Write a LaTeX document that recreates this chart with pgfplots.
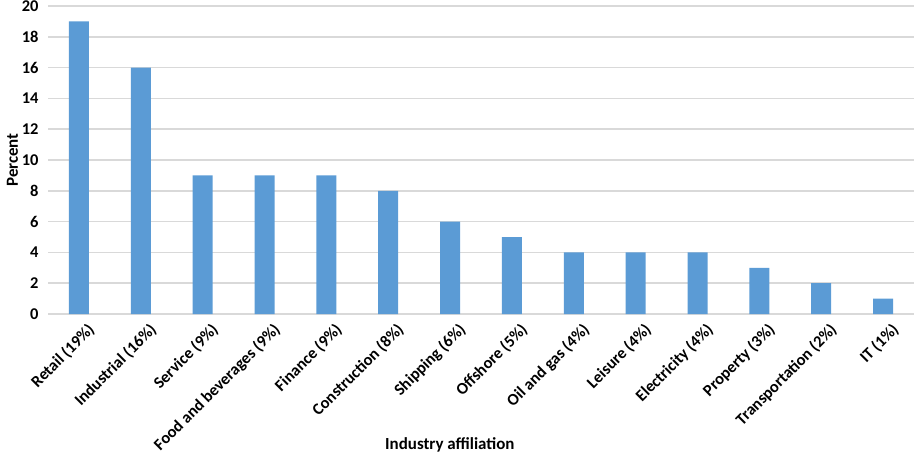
\documentclass[border=0pt]{standalone}
\usepackage{pgfplots}
\pgfplotsset{compat=1.18}
\usepackage{fontspec}
\setmainfont{Carlito}
\usetikzlibrary{calc}
\definecolor{barblue}{HTML}{5B9BD5}
\definecolor{gridgray}{HTML}{D9D9D9}
\begin{document}
\begin{tikzpicture}
\begin{axis}[
  scale only axis,
  width=866bp, height=308bp,
  ymin=0, ymax=20, ytick={0,2,...,20},
  xmin=-0.5, xmax=13.5,
  xtick=data,
  xticklabels={Retail (19\%),Industrial (16\%),Service (9\%),Food and beverages (9\%),Finance (9\%),Construction (8\%),Shipping (6\%),Offshore (5\%),Oil and gas (4\%),Leisure (4\%),Electricity (4\%),Property (3\%),Transportation (2\%),IT (1\%)},
  x tick label style={rotate=45, anchor=north east, font=\fontsize{16.5}{18}\selectfont\bfseries, inner sep=1pt, xshift=1pt, yshift=-10pt},
  y tick label style={font=\fontsize{16.5}{18}\selectfont\bfseries, xshift=-6pt},
  /pgf/number format/assume math mode=true,
  axis line style={draw=none},
  major tick length=0pt,
  ymajorgrids,
  grid style={gridgray, line width=1.5bp},
  ylabel={\bfseries Percent},
  ylabel style={font=\fontsize{17}{19}\selectfont, yshift=-3pt},
  xlabel={\bfseries Industry affiliation},
  xlabel style={font=\fontsize{17}{19}\selectfont, at={(rel axis cs:0.464,0)}, anchor=center, yshift=-131bp},
  ybar, bar width=20bp,
  clip=false,
]
\addplot[fill=barblue, draw=none] coordinates {
(0,19) (1,16) (2,9) (3,9) (4,9) (5,8) (6,6) (7,5) (8,4) (9,4) (10,4) (11,3) (12,2) (13,1)};
\coordinate (bl) at (rel axis cs:0,0);
\coordinate (tr) at (rel axis cs:1,1);
\end{axis}
\pgfresetboundingbox
\path[use as bounding box] ($(bl)+(-48bp,-141bp)$) rectangle ($(tr)+(0bp,6bp)$);
\end{tikzpicture}
\end{document}
